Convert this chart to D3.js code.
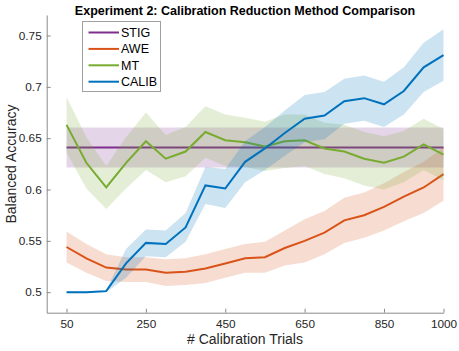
<!DOCTYPE html>
<html>
<head>
<meta charset="utf-8">
<script src="https://cdn.jsdelivr.net/npm/d3@7"></script>
<style>
  body { margin: 0; background: #fff; }
  text { font-family: "Liberation Sans", Arial, sans-serif; }
</style>
</head>
<body>
<div id="chart"></div>
<script>
// number of calibration trials
const trials = [50, 100, 150, 200, 250, 300, 350, 400, 450, 500,
                550, 600, 650, 700, 750, 800, 850, 900, 950, 1000];

const stig    = [0.641, 0.641, 0.641, 0.641, 0.641, 0.641, 0.641, 0.641, 0.641, 0.641,
                 0.641, 0.641, 0.641, 0.641, 0.641, 0.641, 0.641, 0.641, 0.641, 0.641];
const stigErr = [0.0195, 0.0195, 0.0195, 0.0195, 0.0195, 0.0195, 0.0195, 0.0195, 0.0195, 0.0195,
                 0.0195, 0.0195, 0.0195, 0.0195, 0.0195, 0.0195, 0.0195, 0.0195, 0.0195, 0.0195];

const awe    = [0.544, 0.533, 0.524, 0.522, 0.522, 0.519, 0.520, 0.523, 0.528, 0.533,
                0.534, 0.543, 0.550, 0.558, 0.570, 0.575, 0.583, 0.593, 0.602, 0.615];
const aweErr = [0.015, 0.014, 0.013, 0.012, 0.012, 0.013, 0.013, 0.014, 0.014, 0.014,
                0.015, 0.017, 0.021, 0.021, 0.022, 0.022, 0.023, 0.024, 0.025, 0.026];

const mt    = [0.663, 0.626, 0.602, 0.626, 0.647, 0.630, 0.637, 0.656, 0.648, 0.646,
               0.642, 0.647, 0.648, 0.640, 0.637, 0.630, 0.626, 0.632, 0.644, 0.634];
const mtErr = [0.027, 0.025, 0.021, 0.025, 0.028, 0.023, 0.024, 0.025, 0.025, 0.024,
               0.024, 0.026, 0.025, 0.025, 0.026, 0.026, 0.026, 0.025, 0.025, 0.025];

const calib    = [0.500, 0.500, 0.501, 0.528, 0.548, 0.547, 0.563, 0.604, 0.601, 0.627,
                  0.640, 0.655, 0.669, 0.672, 0.686, 0.689, 0.683, 0.696, 0.719, 0.731];
const calibErr = [0.001, 0.001, 0.001, 0.014, 0.013, 0.013, 0.014, 0.018, 0.019, 0.020,
                  0.021, 0.022, 0.023, 0.023, 0.022, 0.022, 0.022, 0.023, 0.024, 0.025];

const seriesNames = ["STIG", "AWE", "MT", "CALIB"];
const colors = ["#7E2F8E", "#D95319", "#77AC30", "#0072BD"];

const xTicks = [50, 250, 450, 650, 850, 1000];
const yTicks = [0.5, 0.55, 0.6, 0.65, 0.7, 0.75];

const series = [
  { name: seriesNames[0], mean: stig, err: stigErr },
  { name: seriesNames[1], mean: awe, err: aweErr },
  { name: seriesNames[2], mean: mt, err: mtErr },
  { name: seriesNames[3], mean: calib, err: calibErr }
];

const width = 459, height = 351;
const plot = { left: 46.7, right: 443.5, top: 15, bottom: 312.7 };

const svg = d3.select("#chart").append("svg")
  .attr("width", width)
  .attr("height", height);

const x = d3.scaleLinear().domain([0, 1000]).range([plot.left, plot.right]);
const y = d3.scaleLinear().domain([0.48, 0.77]).range([plot.bottom, plot.top]);

// shaded bands + mean lines
series.forEach((s, i) => {
  const pts = trials.map((t, j) => ({ t, m: s.mean[j], e: s.err[j] }));

  const area = d3.area()
    .x(d => x(d.t))
    .y0(d => y(d.m - d.e))
    .y1(d => y(d.m + d.e));

  svg.append("path")
    .datum(pts)
    .attr("d", area)
    .attr("fill", colors[i])
    .attr("fill-opacity", 0.2);

  const line = d3.line()
    .x(d => x(d.t))
    .y(d => y(d.m));

  svg.append("path")
    .datum(pts)
    .attr("d", line)
    .attr("fill", "none")
    .attr("stroke", colors[i])
    .attr("stroke-width", 2);
});

// axes (ticks point inward like MATLAB)
const xAxis = svg.append("g")
  .attr("transform", `translate(0, ${plot.bottom})`)
  .call(d3.axisBottom(x).tickValues(xTicks).tickSizeInner(-4).tickSizeOuter(0).tickPadding(6.5)
    .tickFormat(d3.format("d")));

const yAxis = svg.append("g")
  .attr("transform", `translate(${plot.left}, 0)`)
  .call(d3.axisLeft(y).tickValues(yTicks).tickSizeInner(-4).tickSizeOuter(0).tickPadding(5)
    .tickFormat(d3.format("~g")));

[xAxis, yAxis].forEach(a => {
  a.select(".domain").attr("stroke", "#8a8a8a");
  a.selectAll(".tick line").attr("stroke", "#8a8a8a");
  a.selectAll(".tick text")
    .attr("fill", "#262626")
    .style("font-size", "11.8px")
    .style("font-family", "'Liberation Sans', Arial, sans-serif");
});

// title
svg.append("text")
  .attr("x", 245)
  .attr("y", 15)
  .attr("text-anchor", "middle")
  .style("font-size", "12.5px")
  .style("font-weight", "bold")
  .attr("fill", "#000")
  .text("Experiment 2: Calibration Reduction Method Comparison");

// axis labels
svg.append("text")
  .attr("x", 245)
  .attr("y", 344)
  .attr("text-anchor", "middle")
  .style("font-size", "14px")
  .attr("fill", "#262626")
  .text("# Calibration Trials");

svg.append("text")
  .attr("transform", "rotate(-90)")
  .attr("x", -164)
  .attr("y", 16)
  .attr("text-anchor", "middle")
  .style("font-size", "14px")
  .attr("fill", "#262626")
  .text("Balanced Accuracy");

// legend
const legend = svg.append("g");
legend.append("rect")
  .attr("x", 82.5)
  .attr("y", 21.5)
  .attr("width", 78)
  .attr("height", 70)
  .attr("fill", "#fff")
  .attr("stroke", "#a0a0a0")
  .attr("stroke-width", 1);

seriesNames.forEach((name, i) => {
  const ly = 32.5 + i * 16.4;
  legend.append("line")
    .attr("x1", 88.5)
    .attr("x2", 119)
    .attr("y1", ly)
    .attr("y2", ly)
    .attr("stroke", colors[i])
    .attr("stroke-width", 2);
  legend.append("text")
    .attr("x", 121)
    .attr("y", ly + 4.5)
    .style("font-size", "12.5px")
    .attr("fill", "#000")
    .text(name);
});
</script>
</body>
</html>
